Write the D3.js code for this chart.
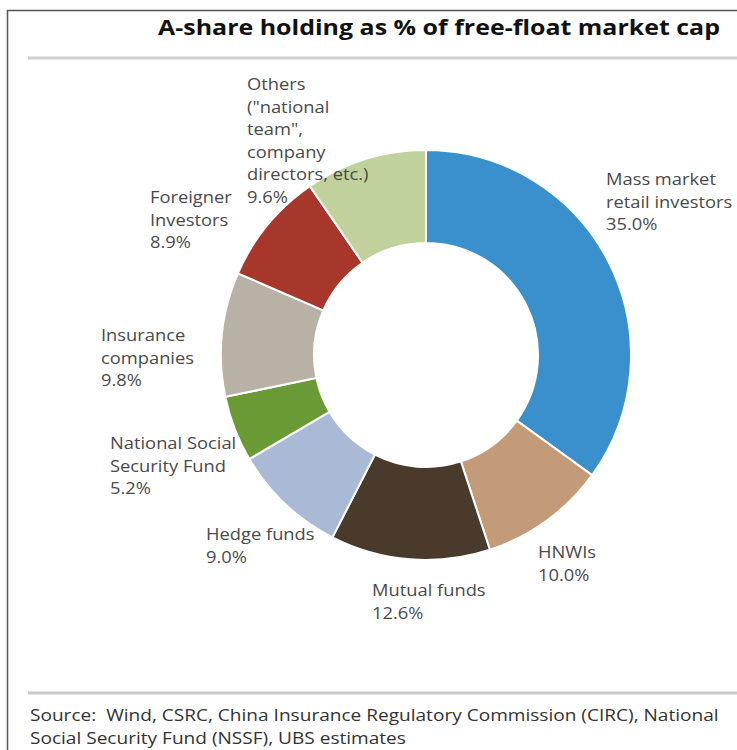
<!DOCTYPE html>
<html>
<head>
<meta charset="utf-8">
<script src="https://cdn.jsdelivr.net/npm/d3@7"></script>
<style>
  html, body { margin: 0; padding: 0; background: #fff; }
  svg { display: block; font-family: "Open Sans", "Noto Sans", sans-serif; }
  text { white-space: pre; }
</style>
</head>
<body>
<svg id="chart" width="737" height="750"></svg>
<script>
// Holder groups, clockwise from 12 o'clock
const categories = [
  "Mass market retail investors",
  "HNWIs",
  "Mutual funds",
  "Hedge funds",
  "National Social Security Fund",
  "Insurance companies",
  "Foreigner Investors",
  "Others (\"national team\", company directors, etc.)"
];
const values = [35.0, 10.0, 12.6, 9.0, 5.2, 9.8, 8.9, 9.6];
// How each category name wraps in its label
const labelLines = [
  ["Mass market", "retail investors"],
  ["HNWIs"],
  ["Mutual funds"],
  ["Hedge funds"],
  ["National Social", "Security Fund"],
  ["Insurance", "companies"],
  ["Foreigner", "Investors"],
  ["Others", "(\"national", "team\",", "company", "directors, etc.)"]
];
const colors = ["#3a8fcd", "#c39b79", "#4a3a2c", "#a9b9d6", "#6a9a36", "#b8b1a5", "#a7372b", "#c1d19c"];

const titleText = "A-share holding as % of free-float market cap";
const sourceLines = [
  "Source:  Wind, CSRC, China Insurance Regulatory Commission (CIRC), National",
  "Social Security Fund (NSSF), UBS estimates"
];

// Top-left corner of each label block
const labelAnchor = [
  [606, 185], [538, 558], [372, 596], [206, 540],
  [110, 449], [101, 341], [150, 203], [247, 90]
];

const svg = d3.select("#chart");
const W = 737, H = 750;

// Widen a text run horizontally by a factor, keeping its left edge
function widen(sel, factor) {
  sel.each(function () {
    const len = this.getComputedTextLength();
    d3.select(this)
      .attr("textLength", len * factor)
      .attr("lengthAdjust", "spacingAndGlyphs");
  });
}

// Frame (top and left rules)
svg.append("path")
  .attr("d", `M7.5,${H} V10.5 H${W}`)
  .attr("fill", "none").attr("stroke", "#555").attr("stroke-width", 1.5);

// Title
const title = svg.append("text")
  .attr("x", 439).attr("y", 35)
  .attr("text-anchor", "middle")
  .attr("font-size", 21).attr("font-weight", 700).attr("fill", "#111")
  .text(titleText);
title.attr("textLength", 562).attr("lengthAdjust", "spacingAndGlyphs");

// Separators
svg.append("line").attr("x1", 28).attr("x2", W).attr("y1", 58).attr("y2", 58)
  .attr("stroke", "#d0d0d0").attr("stroke-width", 3);
svg.append("line").attr("x1", 28).attr("x2", W).attr("y1", 693).attr("y2", 693)
  .attr("stroke", "#c8c8c8").attr("stroke-width", 3);

// Donut
const cx = 426, cy = 355, rOuter = 205, rInner = 112;
const pie = d3.pie().sort(null).value(d => d)(values);
const arc = d3.arc().innerRadius(rInner).outerRadius(rOuter);

const g = svg.append("g").attr("transform", `translate(${cx},${cy})`);
g.selectAll("path.slice")
  .data(pie)
  .join("path")
  .attr("class", "slice")
  .attr("d", arc)
  .attr("fill", (d, i) => colors[i])
  .attr("stroke", "#fff")
  .attr("stroke-width", 2);

// Labels
const fmt = d3.format(".1f");
const lineH = 22.5;
const labels = svg.append("g")
  .attr("font-size", 16.5).attr("fill", "#4a4a4a");
pie.forEach((d, i) => {
  const lines = labelLines[i].concat([fmt(values[i]) + "%"]);
  lines.forEach((s, k) => {
    labels.append("text")
      .attr("x", labelAnchor[i][0])
      .attr("y", labelAnchor[i][1] + k * lineH)
      .text(s);
  });
});
widen(labels.selectAll("text"), 1.11);

// Source note
const src = svg.append("g").attr("font-size", 16.5).attr("fill", "#333");
sourceLines.forEach((s, k) => {
  src.append("text").attr("x", 30).attr("y", 721 + k * 22.5).text(s);
});
widen(src.selectAll("text"), 1.155);
</script>
</body>
</html>
